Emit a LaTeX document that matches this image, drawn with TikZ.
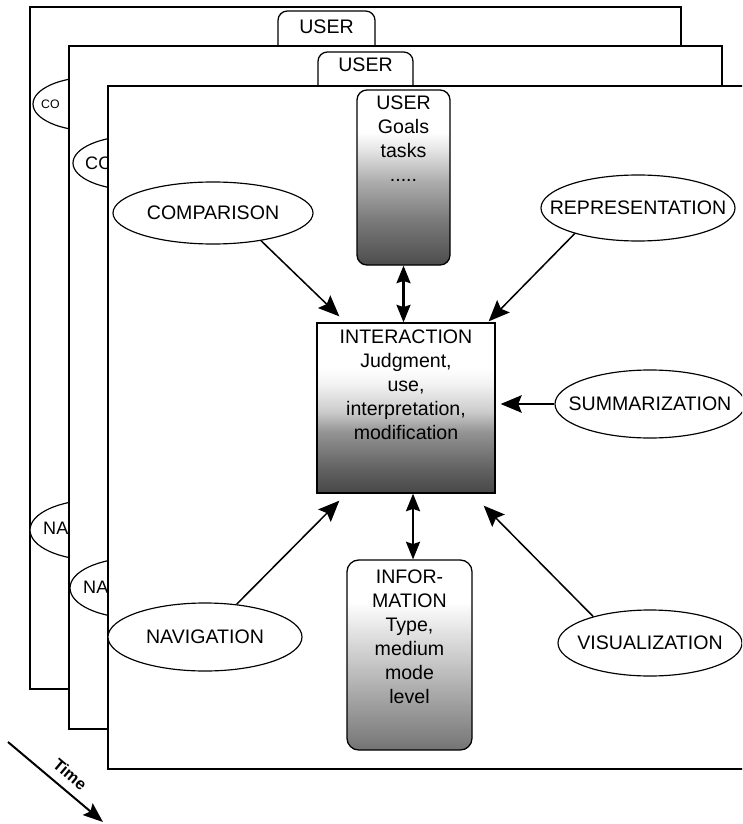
\documentclass[tikz,border=0pt]{standalone}
\usepackage{fontspec}
\setmainfont{Liberation Sans}
\usetikzlibrary{arrows.meta,shapes.geometric}

% grey levels for the vertical box shadings
\definecolor{uA}{gray}{0.30}\definecolor{uB}{gray}{0.48}\definecolor{uC}{gray}{0.68}\definecolor{uD}{gray}{0.90}
\definecolor{iA}{gray}{0.28}\definecolor{iB}{gray}{0.38}\definecolor{iC}{gray}{0.58}\definecolor{iD}{gray}{0.80}\definecolor{iE}{gray}{0.95}
\definecolor{fA}{gray}{0.45}\definecolor{fB}{gray}{0.50}\definecolor{fC}{gray}{0.65}\definecolor{fD}{gray}{0.75}\definecolor{fE}{gray}{0.90}

\pgfdeclareverticalshading{usershade}{100bp}{color(0bp)=(uA); color(25bp)=(uA); color(38bp)=(uB); color(49bp)=(uC); color(58bp)=(uD); color(63bp)=(white); color(100bp)=(white)}
\pgfdeclareverticalshading{intershade}{100bp}{color(0bp)=(iA); color(25bp)=(iA); color(32bp)=(iB); color(43bp)=(iC); color(49bp)=(iD); color(57bp)=(iE); color(62bp)=(white); color(100bp)=(white)}
\pgfdeclareverticalshading{infoshade}{100bp}{color(0bp)=(fA); color(25bp)=(fA); color(28bp)=(fB); color(39bp)=(fC); color(46bp)=(fD); color(57bp)=(fE); color(64bp)=(white); color(100bp)=(white)}

\newcommand\lblfont{\fontsize{16.7}{20.5}\selectfont}

\begin{document}
\begin{tikzpicture}[x=0.03cm,y=-0.03cm,
  frame/.style={draw=black,line width=1.2pt,fill=white},
  tab/.style={draw=black,line width=1.1pt,fill=white,rounded corners=8pt,
    minimum width=#1,minimum height=2.4cm,inner sep=0pt},
  oval/.style={ellipse,draw=black,line width=1pt,fill=white,inner sep=0pt,font=\lblfont},
  part/.style={anchor=west,inner sep=0pt},
  box/.style={draw=black,line width=1.1pt,inner sep=0pt},
  lbl/.style={font=\lblfont,align=center,inner sep=0pt,anchor=north},
  flow/.style={line width=1.3pt,-{Stealth[length=18pt,width=15pt,inset=3pt]}},
  both/.style={line width=1.8pt,{Stealth[length=15pt,width=12pt,inset=2pt]}-{Stealth[length=15pt,width=12pt,inset=2pt]}},
  timearrow/.style={line width=1.7pt,-{Stealth[length=17pt,width=13pt,inset=3pt]}}
]
\clip (0,0) rectangle (742,824);

% ---- oldest frame ----
\draw[frame] (30,7) rectangle (681,689);
\node[tab=2.91cm] (user1) at (326.5,51) {};
\node[lbl] (user1lbl) at ([yshift=-7.7pt]user1.north) {USER};
\node[oval,minimum width=3.6cm,minimum height=1.62cm] (co1) at (93,104) {};
\node[part,font=\fontsize{10.5}{12}\selectfont] (co1lbl) at (41,104) {CO};
\node[oval,minimum width=3.9cm,minimum height=1.8cm] (na1) at (95,530) {};
\node[part,font=\fontsize{15.4}{18}\selectfont] (na1lbl) at (43,528) {NA};

% ---- middle frame ----
\draw[frame] (69,46) rectangle (722,729);
\node[tab=2.85cm] (user2) at (365.5,92) {};
\node[lbl] (user2lbl) at ([yshift=-5pt]user2.north) {USER};
\node[oval,minimum width=3.72cm,minimum height=1.62cm] (co2) at (135,163) {};
\node[part,font=\fontsize{15.4}{18}\selectfont] (co2lbl) at (85,163) {CO};
\node[oval,minimum width=3.9cm,minimum height=1.8cm] (na2) at (135,588) {};
\node[part,font=\fontsize{15.4}{18}\selectfont] (na2lbl) at (83,587) {NA};

% ---- current frame ----
\draw[frame] (108,86) rectangle (780,769);

\node[box,rounded corners=8.5pt,shading=usershade,minimum width=2.79cm,minimum height=5.25cm] (user) at (403.5,177.5) {};
\node[lbl] (userlbl) at ([yshift=-5.1pt]user.north) {USER\\Goals\\tasks\\.....};

\node[box,shading=intershade,minimum width=5.34cm,minimum height=5.1cm] (inter) at (406,408) {};
\node[lbl] (interlbl) at ([yshift=-6pt]inter.north) {INTERACTION\\Judgment,\\use,\\interpretation,\\modification};

\node[box,rounded corners=10pt,shading=infoshade,minimum width=3.75cm,minimum height=5.7cm] (info) at (409.5,655) {};
\node[lbl] (infolbl) at ([yshift=-8.5pt]info.north) {INFOR-\\MATION\\Type,\\medium\\mode\\level};

\node[oval,minimum width=6cm,minimum height=1.86cm] (comp) at (213,213) {\makebox[0pt]{COMPARISON}};
\node[oval,minimum width=5.82cm,minimum height=1.98cm] (rep) at (638,208) {\makebox[0pt]{REPRESENTATION}};
\node[oval,minimum width=5.7cm,minimum height=2.04cm] (summ) at (650,404) {\makebox[0pt]{SUMMARIZATION}};
\node[oval,minimum width=5.52cm,minimum height=1.98cm] (vis) at (650,643) {\makebox[0pt]{VISUALIZATION}};
\node[oval,minimum width=5.82cm,minimum height=2.04cm] (nav) at (205,637) {\makebox[0pt]{NAVIGATION}};

% arrow tips stop just short of the interaction box corners
\coordinate (tipC) at ([shift={(23,-6)}]inter.north west);
\coordinate (tipR) at ([shift={(-7,-1)}]inter.north east);
\coordinate (tipS) at ([shift={(5,0)}]inter.east |- summ.west);
\coordinate (tipN) at ([shift={(23,7)}]inter.south west);
\coordinate (tipV) at ([shift={(-12,12)}]inter.south east);

\draw[flow] (comp.330) -- (tipC);
\draw[flow] (rep.202) -- (tipR);
\draw[flow] (summ.west) -- (tipS);
\draw[flow] (nav.46) -- (tipN);
\draw[flow] (vis.155) -- (tipV);

\draw[both] (user.south) -- (user.south |- inter.north);
\coordinate (infotop) at ([xshift=3pt]info.north);
\draw[both] (infotop) -- (infotop |- inter.south);

% time axis
\coordinate (time0) at (8,742);
\coordinate (time1) at (103,822);
\draw[timearrow] (time0) -- node[sloped,above=7pt,pos=0.55,inner sep=0pt,font=\bfseries\fontsize{14}{16}\selectfont] (timelbl) {Time} (time1);
\end{tikzpicture}
\end{document}
